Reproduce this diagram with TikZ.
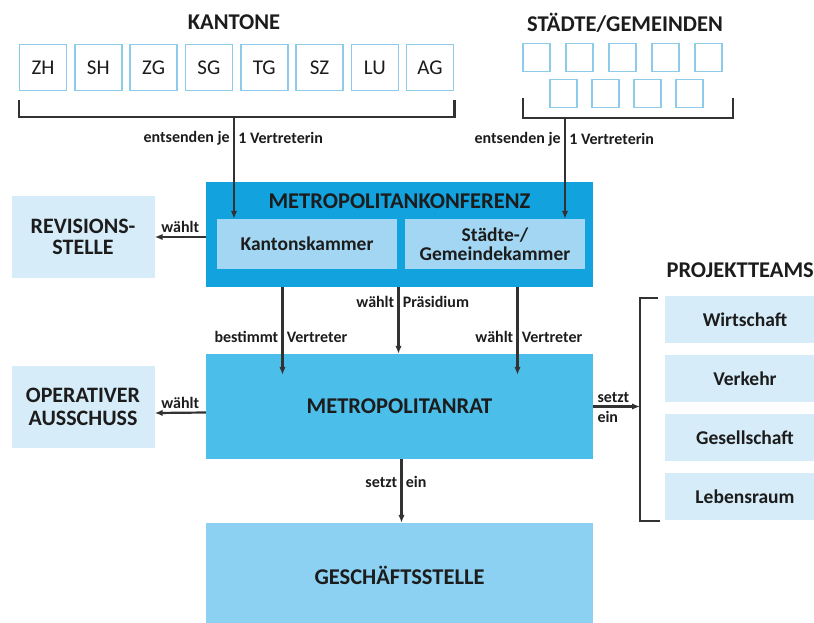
\documentclass[tikz,border=0pt]{standalone}
\usepackage{fontspec}
\setmainfont{Carlito}
\usetikzlibrary{arrows.meta}
\definecolor{konfblue}{RGB}{18,162,222}
\definecolor{ratblue}{RGB}{76,190,234}
\definecolor{geschblue}{RGB}{140,208,242}
\definecolor{kammerblue}{RGB}{162,214,242}
\definecolor{paleblue}{RGB}{214,236,249}
\definecolor{boxline}{RGB}{140,203,234}
\definecolor{linegray}{RGB}{50,50,50}
\definecolor{txt}{RGB}{28,28,28}
\begin{document}
\begin{tikzpicture}[x=1pt,y=-1pt,
        every node/.style={text=txt},
        lbl/.style={font=\fontsize{16}{18}\selectfont\bfseries, inner sep=3.2pt},
        ttl/.style={font=\fontsize{22.5}{24}\selectfont\bfseries},
        kanton/.style={draw=boxline, line width=1.6pt, fill=white, minimum width=47, minimum height=46, font=\fontsize{21}{22}\selectfont},
        gemeinde/.style={draw=boxline, line width=1.6pt, fill=white, minimum width=27, minimum height=28},
        pale/.style={fill=paleblue, align=center, font=\fontsize{22}{21}\selectfont\bfseries},
        sub/.style={font=\fontsize{19.5}{19}\selectfont\bfseries},
        arr/.style={draw=linegray, line width=2.2pt, -{Latex[length=8pt,width=6.5pt]}},
        brk/.style={draw=linegray, line width=2.2pt}]
        \useasboundingbox (0,0) rectangle (814,622);

        % Kantone
        \node[ttl] (kantone) at (234,22) {KANTONE};
        \foreach \k [count=\i from 0] in {ZH,SH,ZG,SG,TG,SZ,LU,AG}
            \node[kanton] (\k) at (43+55.3*\i,67.5) {\k};
        \draw[brk] ([yshift=-9]ZH.south west) |- ([yshift=-26]AG.south east) -- ([yshift=-9]AG.south east);
        \coordinate (kstem) at (234,117);

        % Staedte / Gemeinden
        \node[ttl] (staedte) at (625,23) {STÄDTE/GEMEINDEN};
        \foreach \i in {0,...,4}
            \node[gemeinde] (g\i) at (536.5+43*\i,57.5) {};
        \foreach \i in {5,...,8}
            \node[gemeinde] (g\i) at (563.5+42*\i-210,93.5) {};
        \draw[brk] (523,98) |- (733,118) -- (733,98);
        \coordinate (gstem) at (565,118);

        % Metropolitankonferenz
        \node[fill=konfblue, minimum width=387, minimum height=105] (konf) at (399.5,234.5) {};
        \node[ttl] (konftitle) at (399.5,201) {METROPOLITANKONFERENZ};
        \node[pale, sub, fill=kammerblue, minimum width=180, minimum height=50] (kammer) at (307,244) {Kantonskammer};
        \node[pale, sub, fill=kammerblue, minimum width=180, minimum height=50] (gkammer) at (495,244) {Städte-/\\Gemeindekammer};

        \draw[arr] (kstem) -- (kstem |- kammer.north)
            node[lbl, pos=0.21, left] {entsenden je} node[lbl, pos=0.21, right] {1 Vertreterin};
        \draw[arr] (gstem) -- (gstem |- gkammer.north)
            node[lbl, pos=0.21, left] {entsenden je} node[lbl, pos=0.21, right] {1 Vertreterin};

        % linke Seite
        \node[pale, minimum width=143, minimum height=82] (rev) at (83,237) {REVISIONS-\\STELLE};
        \node[pale, minimum width=143, minimum height=82, font=\fontsize{22}{23}\selectfont\bfseries] (ops) at (83,407) {OPERATIVER\\AUSSCHUSS};

        % Metropolitanrat
        \node[ttl, fill=ratblue, minimum width=387, minimum height=105] (rat) at (399.5,406.5) {METROPOLITANRAT};
        \node[ttl, fill=geschblue, minimum width=387, minimum height=104] (gesch) at (399.5,575) {GESCHÄFTSSTELLE};

        \draw[arr] (konf.west |- rev.east) -- (rev.east) node[lbl, midway, above] {wählt};
        \draw[arr] ([yshift=-6]rat.west) -- ([yshift=-6]ops.east) node[lbl, midway, above] {wählt};

        \draw[arr] ([xshift=-117]konf.south) -- ([xshift=-117,yshift=-21]rat.north)
            node[lbl, pos=0.57, left] {bestimmt} node[lbl, pos=0.57, right] {Vertreter};
        \draw[arr] ([xshift=-1]konf.south) -- ([xshift=-1]rat.north)
            node[lbl, pos=0.22, left] {wählt} node[lbl, pos=0.22, right] {Präsidium};
        \draw[arr] ([xshift=118]konf.south) -- ([xshift=118,yshift=-21]rat.north)
            node[lbl, pos=0.57, left] {wählt} node[lbl, pos=0.57, right] {Vertreter};
        \draw[arr] ([xshift=2]rat.south) -- ([xshift=2]gesch.north)
            node[lbl, pos=0.36, left] {setzt} node[lbl, pos=0.36, right] {ein};

        % Projektteams
        \node[ttl, anchor=west] (projekte) at (663,270) {PROJEKTTEAMS};
        \foreach \p [count=\i from 0] in {Wirtschaft,Verkehr,Gesellschaft,Lebensraum}
            \node[pale, sub, minimum width=160, minimum height=47] (p\i) at (745,319.5+59*\i) {\p};
        \coordinate (ptop) at (658,298);
        \coordinate (pbot) at (660,521);
        \draw[brk] (ptop) -- ++(-18,0) |- (pbot);
        \draw[arr] (rat.east) -- ([xshift=-18]rat.east -| ptop)
            node[lbl, pos=0, above right] {setzt} node[lbl, pos=0, below right] {ein};
\end{tikzpicture}
\end{document}
